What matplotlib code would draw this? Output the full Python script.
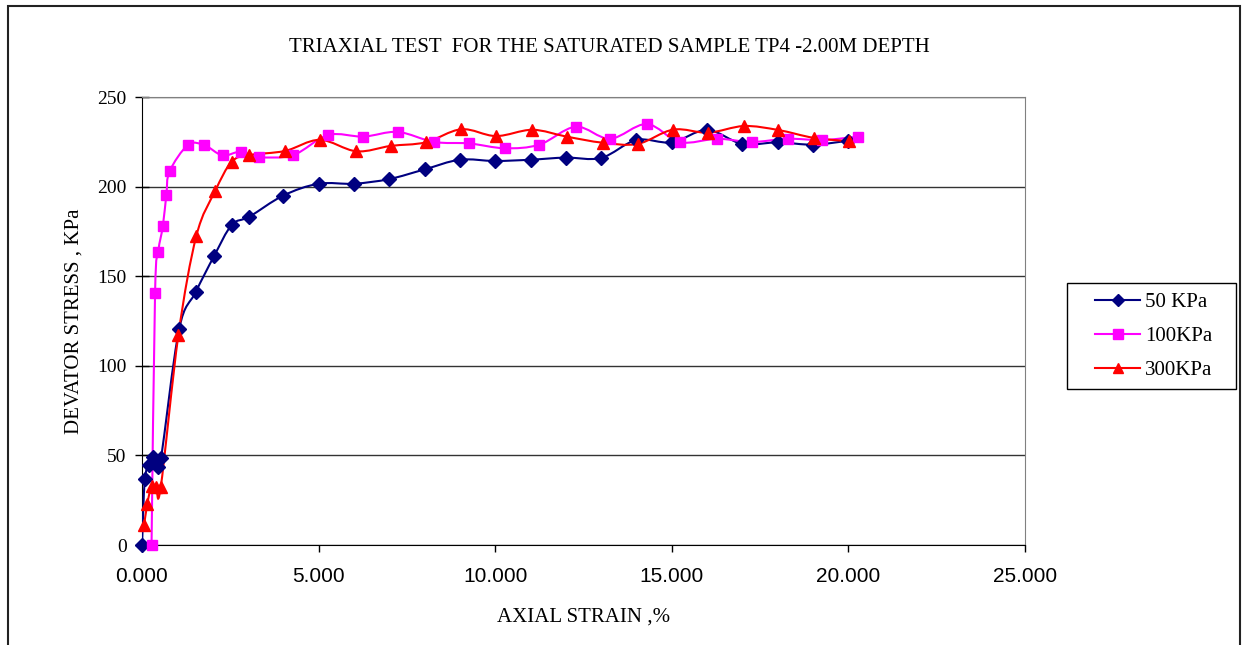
import matplotlib
matplotlib.use("Agg")
import matplotlib.pyplot as plt
from matplotlib.path import Path
from matplotlib.patches import PathPatch, Rectangle
from matplotlib.lines import Line2D

# ---------------------------------------------------------------------
# data
# ---------------------------------------------------------------------
strain_50 = [0, 0.08, 0.21, 0.32, 0.45, 0.54, 1.05, 1.52, 2.04, 2.54, 3.04, 4.0,
             5.0, 6.0, 7.0, 8.0, 9.0, 10.0, 11.0, 12.0, 13.0, 14.0, 15.0, 16.0,
             17.0, 18.0, 19.0, 20.0]
stress_50 = [0, 36.7, 44.6, 49.3, 43.7, 48.4, 120.4, 141.1, 161.2, 178.6, 183.2, 195.0,
             201.6, 201.6, 204.2, 209.6, 215.0, 214.3, 215.0, 216.2, 216.0, 226.0, 224.7, 231.6,
             223.8, 224.7, 223.4, 225.6]

strain_100 = [0.27, 0.37, 0.46, 0.59, 0.69, 0.78, 1.30, 1.76, 2.28, 2.79, 3.30, 4.28,
              5.27, 6.27, 7.24, 8.27, 9.26, 10.27, 11.25, 12.28, 13.25, 14.29, 15.23,
              16.29, 17.26, 18.28, 19.26, 20.28]
stress_100 = [0, 140.8, 163.7, 178.0, 195.5, 208.5, 223.2, 223.2, 217.4, 219.5, 216.5, 217.6,
              228.8, 227.9, 230.5, 224.9, 224.1, 221.4, 223.4, 233.4, 226.7, 234.9, 224.8,
              226.7, 224.9, 226.7, 226.0, 227.9]

strain_300 = [0.06, 0.15, 0.27, 0.40, 0.53, 1.03, 1.54, 2.07, 2.54, 3.04, 4.05, 5.03,
              6.07, 7.04, 8.03, 9.04, 10.02, 11.05, 12.02, 13.04, 14.03, 15.04, 16.03,
              17.04, 18.01, 19.02, 20.02]
stress_300 = [11.2, 22.9, 33.1, 32.2, 32.2, 117.2, 172.6, 197.5, 213.9, 217.6, 219.9, 226.1,
              219.7, 222.7, 224.7, 232.0, 228.2, 231.7, 227.9, 224.5, 223.8, 231.8, 230.1,
              233.8, 231.6, 227.2, 225.3]

labels = ["50 KPa", "100KPa", "300KPa"]
x_ticks = [0, 5, 10, 15, 20, 25]
y_ticks = [0, 50, 100, 150, 200, 250]

SERIF = "Liberation Serif"
SANS = "Liberation Sans"
W, H = 1245, 645


def smooth_path(xs, ys):
    """Excel-like smoothed line: cubic Bezier segments (Catmull-Rom control points)."""
    pts = list(zip(xs, ys))
    verts = [pts[0]]
    codes = [Path.MOVETO]
    n = len(pts)
    for i in range(n - 1):
        p0 = pts[i - 1] if i > 0 else pts[i]
        p1 = pts[i]
        p2 = pts[i + 1]
        p3 = pts[i + 2] if i + 2 < n else pts[i + 1]
        c1 = (p1[0] + (p2[0] - p0[0]) / 6, p1[1] + (p2[1] - p0[1]) / 6)
        c2 = (p2[0] - (p3[0] - p1[0]) / 6, p2[1] - (p3[1] - p1[1]) / 6)
        verts += [c1, c2, p2]
        codes += [Path.CURVE4] * 3
    return Path(verts, codes)


fig = plt.figure(figsize=(W / 100, H / 100), dpi=100)
ax = fig.add_axes([142 / W, 100 / H, 883 / W, 448 / H])

series = [
    (strain_50, stress_50, "#000080", "D", 7.5),
    (strain_100, stress_100, "#FF00FF", "s", 7.5),
    (strain_300, stress_300, "#FF0000", "^", 8.5),
]

handles = []
for (xs, ys, color, marker, ms), lab in zip(series, labels):
    ax.add_patch(PathPatch(smooth_path(xs, ys), facecolor="none", edgecolor=color,
                           linewidth=1.5, zorder=3))
    ax.plot(xs, ys, linestyle="none", marker=marker, markersize=ms, color=color,
            markeredgecolor=color, zorder=4, clip_on=False)
    handles.append(Line2D([], [], color=color, linewidth=1.5, marker=marker,
                          markersize=ms - 1, label=lab))

ax.set_xlim(0, 25)
ax.set_ylim(0, 250)
ax.set_xticks(x_ticks)
ax.set_xticklabels([f"{v:.3f}" for v in x_ticks], fontfamily=SANS, fontsize=15)
ax.set_yticks(y_ticks)
ax.set_yticklabels([str(v) for v in y_ticks], fontfamily=SERIF, fontsize=14)
ax.tick_params(axis="y", direction="inout", length=10, width=1, pad=6)
ax.tick_params(axis="x", direction="out", length=5, width=1, pad=11)

ax.grid(True, axis="y", color="#333333", linewidth=1)
ax.set_axisbelow(True)
for side in ("top", "right"):
    ax.spines[side].set_color("#808080")
for side in ("left", "bottom"):
    ax.spines[side].set_color("black")

ax.set_xlabel("AXIAL STRAIN ,%", fontfamily=SERIF, fontsize=15, labelpad=15)
ax.set_ylabel("DEVATOR STRESS , KPa", fontfamily=SERIF, fontsize=15, labelpad=10)

fig.text(609 / W, 1 - 47 / H, "TRIAXIAL TEST  FOR THE SATURATED SAMPLE TP4 -2.00M DEPTH",
         ha="center", va="center", fontfamily=SERIF, fontsize=15)

# legend box drawn by hand, entries placed inside it
fig.patches.append(Rectangle((1067 / W, 1 - 389 / H), 169 / W, 106 / H,
                             transform=fig.transFigure, facecolor="white",
                             edgecolor="black", linewidth=1, zorder=5))
leg = fig.legend(handles=handles, loc="center",
                 bbox_to_anchor=(1154 / W, 1 - 336.5 / H),
                 prop={"family": SERIF, "size": 15}, frameon=False,
                 borderpad=0, labelspacing=0.69, handlelength=2.16, handletextpad=0.25,
                 borderaxespad=0)
leg.set_zorder(6)

# outer chart frame
fig.patches.append(Rectangle((8 / W, -0.05), 1232 / W, 1.05 - 6 / H,
                             transform=fig.transFigure, facecolor="none",
                             edgecolor="#222222", linewidth=1.5))

plt.savefig("out.png", dpi=100)
